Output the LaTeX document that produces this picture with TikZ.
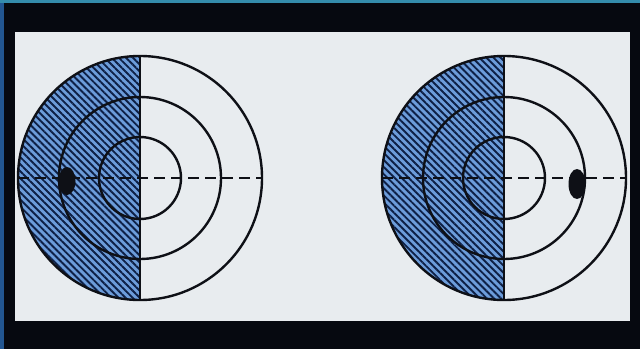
\documentclass[tikz,border=0pt]{standalone}
\usepackage{xcolor}
\usepackage{tikz}
\usetikzlibrary{patterns.meta}
\definecolor{slidebg}{RGB}{6,9,16}
\definecolor{slideedge}{RGB}{34,86,145}
\definecolor{slidetop}{RGB}{52,140,172}
\definecolor{panelgray}{RGB}{232,236,239}
\definecolor{fieldblue}{RGB}{108,156,218}
\definecolor{hatchnavy}{RGB}{14,32,70}
\definecolor{inkline}{RGB}{14,16,22}

\tikzset{
  ring/.style={draw=inkline, line width=2.4pt},
  halffield/.style={preaction={fill=fieldblue},
    pattern={Lines[angle=-45, distance=5pt, line width=1.9pt]},
    pattern color=hatchnavy},
  meridian/.style={draw=inkline, line width=2.4pt},
  horizon/.style={draw=inkline, line width=2.4pt, dash pattern=on 11pt off 6pt},
  blindspot/.style={fill=inkline}
}

\begin{document}
\begin{tikzpicture}[x=1pt, y=1pt]
  % slide frame
  \fill[slidebg] (0,0) rectangle (640,349);
  \fill[slideedge] (0,0) rectangle (3.5,349);
  \fill[slidetop] (0,346) rectangle (640,349);
  \fill[panelgray] (15,28) rectangle (630,317);
  \useasboundingbox (0,0) rectangle (640,349);

  % two visual fields, blind spot left / right
  \foreach \cx/\bx/\by/\br in {140/67/168/14, 504/577/165/15}{
    \coordinate (ctr) at (\cx,171);
    \coordinate (spot) at (\bx,\by);
    \path[halffield] (ctr) ++(0,122) arc[start angle=90, end angle=270, radius=122] -- cycle;
    \foreach \r in {41,81,122}
      \draw[ring] (ctr) circle[radius=\r];
    \draw[meridian] (ctr) ++(0,122) coordinate (top) -- ++(0,-244) coordinate (bot);
    \draw[horizon] (ctr) ++(-122,0) coordinate (west) -- ++(244,0) coordinate (east);
    \fill[blindspot] (spot) ellipse[x radius=8.5, y radius=\br];
  }
\end{tikzpicture}
\end{document}
